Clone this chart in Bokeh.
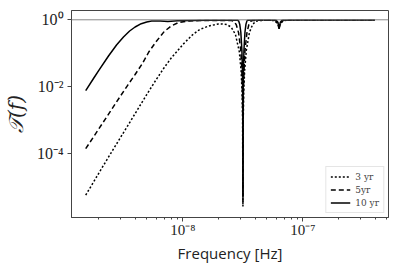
from bokeh.plotting import figure
from bokeh.models import FixedTicker, CustomJSTickFormatter, Span, Legend, LegendItem
from bokeh.embed import file_html
from bokeh.resources import INLINE

# Frequencies [Hz] and transmission values
f_3yr = [1.55e-9, 1.8e-9, 2.1e-9, 2.5e-9, 3.0e-9, 3.5e-9, 4.0e-9, 5.0e-9, 6.0e-9, 7.0e-9, 8.0e-9,
         1.0e-8, 1.2e-8, 1.38e-8, 1.64e-8, 1.98e-8, 2.113e-8, 2.324e-8, 2.535e-8, 2.746e-8, 2.958e-8,
         3.063e-8, 3.116e-8, 3.148e-8, 3.169e-8, 3.190e-8, 3.222e-8, 3.275e-8, 3.380e-8, 3.592e-8, 3.803e-8,
         4.014e-8, 4.225e-8, 4.54e-8, 5.2e-8, 5.8e-8, 6.1e-8, 6.34e-8, 6.6e-8, 6.9e-8, 8e-8, 1.5e-7, 4e-7]
T_3yr = [5.48e-6, 1.35e-5, 3.43e-5, 9.66e-5, 2.82e-4, 6.93e-4, 1.53e-3, 5.71e-3, 1.61e-2, 3.70e-2, 7.13e-2,
         0.181, 0.35, 0.51, 0.65, 0.75, 0.75, 0.72, 0.6, 0.36, 0.11,
         0.028, 7e-3, 1.1e-3, 2.5e-6, 1.2e-3, 7.5e-3, 0.03, 0.12, 0.42, 0.7,
         0.88, 0.93, 0.96, 0.97, 0.95, 0.8, 0.6, 0.8, 0.95, 0.975, 0.985, 0.99]

f_5yr = [1.55e-9, 1.8e-9, 2.1e-9, 2.5e-9, 3.0e-9, 3.5e-9, 4.0e-9, 4.6e-9, 5.2e-9, 6.0e-9,
         7.0e-9, 8.0e-9, 9.2e-9, 1.1e-8, 1.38e-8, 1.7e-8, 2.1e-8, 2.535e-8, 2.662e-8, 2.789e-8,
         2.915e-8, 3.042e-8, 3.106e-8, 3.137e-8, 3.156e-8, 3.169e-8, 3.182e-8, 3.201e-8, 3.233e-8, 3.296e-8,
         3.423e-8, 3.549e-8, 3.676e-8, 3.803e-8, 4.5e-8, 5.5e-8, 5.9e-8, 6.15e-8, 6.34e-8, 6.55e-8,
         6.8e-8, 8e-8, 1.5e-7, 4e-7]
T_5yr = [1.36e-4, 3.06e-4, 7.1e-4, 1.84e-3, 4.97e-3, 1.14e-2, 2.28e-2, 4.88e-2, 0.108, 0.223,
         0.446, 0.652, 0.83, 0.92, 0.953, 0.96, 0.96, 0.95, 0.9, 0.71,
         0.41, 0.12, 0.03, 7.8e-3, 1.25e-3, 3.5e-6, 1.25e-3, 7.8e-3, 0.03, 0.12,
         0.41, 0.71, 0.9, 0.95, 0.97, 0.975, 0.96, 0.8, 0.55, 0.8,
         0.96, 0.98, 0.985, 0.99]

f_10yr = [1.55e-9, 1.8e-9, 2.0e-9, 2.4e-9, 2.8e-9, 3.2e-9, 3.6e-9, 4.0e-9, 4.5e-9, 5.0e-9,
          5.5e-9, 6.5e-9, 7.5e-9, 9.0e-9, 1.2e-8, 1.6e-8, 2.2e-8, 2.852e-8, 2.915e-8, 2.979e-8,
          3.042e-8, 3.106e-8, 3.137e-8, 3.153e-8, 3.163e-8, 3.169e-8, 3.175e-8, 3.185e-8, 3.201e-8, 3.232e-8,
          3.296e-8, 3.359e-8, 3.423e-8, 3.486e-8, 4.2e-8, 5.2e-8, 6.0e-8, 6.2e-8, 6.3e-8, 6.34e-8,
          6.38e-8, 6.5e-8, 6.7e-8, 8e-8, 1.2e-7, 2e-7, 4e-7]
T_10yr = [7.5e-3, 1.73e-2, 3.1e-2, 8.2e-2, 0.175, 0.304, 0.461, 0.608, 0.764, 0.859,
          0.914, 0.92, 0.89, 0.93, 0.96, 0.97, 0.975, 0.97, 0.93, 0.74,
          0.43, 0.125, 0.032, 8e-3, 1.3e-3, 5e-6, 1.3e-3, 8e-3, 0.032, 0.125,
          0.43, 0.74, 0.93, 0.97, 0.98, 0.98, 0.97, 0.85, 0.62, 0.53,
          0.62, 0.85, 0.97, 0.985, 0.99, 0.99, 0.99]

labels = ["3 yr", "5yr", "10 yr"]
x_major = [1e-8, 1e-7]
y_major = [1e-4, 1e-2, 1.0]

p = figure(frame_width=317, frame_height=207, x_axis_type="log", y_axis_type="log",
           x_range=(1.18e-9, 5.18e-7), y_range=(1.17e-6, 1.9),
           output_backend="svg", toolbar_location=None,
           min_border_left=70, min_border_right=11, min_border_top=10, min_border_bottom=46)
p.background_fill_color = "white"
p.border_fill_color = "white"
p.grid.visible = False
p.outline_line_color = "#444444"
p.outline_line_width = 1

p.add_layout(Span(location=1.0, dimension="width", line_color="#888888", line_width=1))

r3 = p.line(f_3yr, T_3yr, line_color="black", line_width=1.5, line_dash="2 2")
r5 = p.line(f_5yr, T_5yr, line_color="black", line_width=1.5, line_dash="5 3")
r10 = p.line(f_10yr, T_10yr, line_color="black", line_width=1.5)

minor_x = [m * 10.0 ** e for e in (-9, -8, -7) for m in range(2, 10) if 1.18e-9 < m * 10.0 ** e < 5.18e-7]
p.xaxis.ticker = FixedTicker(ticks=x_major, minor_ticks=minor_x)
p.yaxis.ticker = FixedTicker(ticks=y_major, minor_ticks=[])

fmt = CustomJSTickFormatter(code="""
const e = Math.round(Math.log10(tick));
const sup = {"-":"\u207b","0":"\u2070","1":"\u00b9","2":"\u00b2","3":"\u00b3","4":"\u2074","5":"\u2075","6":"\u2076","7":"\u2077","8":"\u2078","9":"\u2079"};
return "10" + String(e).split("").map(c => sup[c]).join("");
""")
for ax in (p.xaxis[0], p.yaxis[0]):
    ax.formatter = fmt
    ax.axis_line_color = "#444444"
    ax.major_tick_line_color = "#444444"
    ax.minor_tick_line_color = "#444444"
    ax.major_tick_in = 0
    ax.major_tick_out = 4
    ax.minor_tick_in = 0
    ax.minor_tick_out = 2
    ax.major_label_text_font = "Liberation Serif"
    ax.major_label_text_font_size = "16px"
    ax.major_label_text_color = "#222222"
    ax.major_label_standoff = 4
p.xaxis.major_label_text_font_size = "15px"
p.xaxis.major_label_standoff = 0

p.xaxis.axis_label = "Frequency [Hz]"
p.xaxis.axis_label_text_font = "Open Sans"
p.xaxis.axis_label_text_font_style = "normal"
p.xaxis.axis_label_text_font_size = "15px"
p.xaxis.axis_label_text_color = "#222222"
p.xaxis.axis_label_standoff = 2

p.yaxis.axis_label = "\U0001D4AF(f)"
p.yaxis.axis_label_text_font = "DejaVu Serif"
p.yaxis.axis_label_text_font_style = "italic"
p.yaxis.axis_label_text_font_size = "20px"
p.yaxis.axis_label_text_color = "#222222"
p.yaxis.axis_label_standoff = 6

legend = Legend(items=[LegendItem(label=labels[0], renderers=[r3]),
                       LegendItem(label=labels[1], renderers=[r5]),
                       LegendItem(label=labels[2], renderers=[r10])],
                location="bottom_right")
legend.label_text_font = "DejaVu Serif"
legend.label_text_font_size = "9px"
legend.label_height = 11
legend.glyph_height = 11
legend.glyph_width = 20
legend.spacing = 2
legend.padding = 4
legend.margin = 4
legend.label_standoff = 5
legend.border_line_color = "#cccccc"
legend.background_fill_alpha = 0.8
p.add_layout(legend)

open("out.html", "w").write(file_html(p, INLINE))
